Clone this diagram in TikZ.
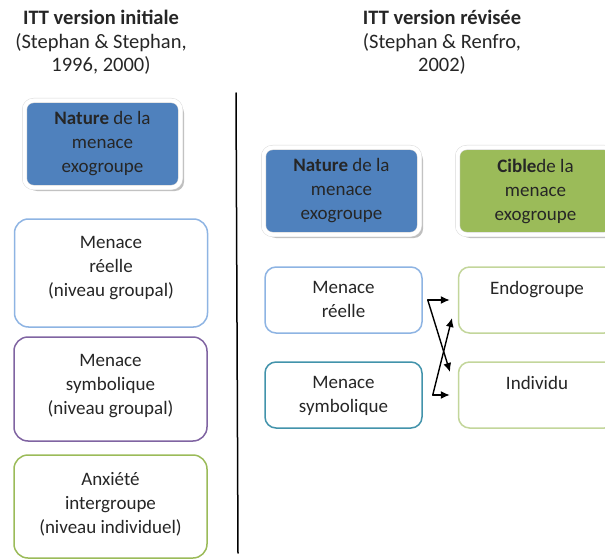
\documentclass[tikz,border=0pt]{standalone}
\usepackage{fontspec}
\setmainfont{Carlito}
\usetikzlibrary{arrows.meta,shadows,positioning}
\definecolor{natblue}{HTML}{4F81BD}
\definecolor{ciblegreen}{HTML}{9BBB59}
\definecolor{reelblue}{HTML}{8EB4E3}
\definecolor{symbpurple}{HTML}{8064A2}
\definecolor{anxgreen}{HTML}{9BBB59}
\definecolor{symbteal}{HTML}{4293AB}
\definecolor{endogreen}{HTML}{C3D69B}
\definecolor{txtgrey}{HTML}{262626}
\newcommand{\bodyfont}{\fontsize{19}{24}\selectfont}
\newcommand{\titlefont}{\fontsize{20.5}{23.5}\selectfont}
\tikzset{
  every picture/.style={line join=round, line cap=round, >=Stealth},
  natbox/.style={rounded corners=9pt, draw=black!15, line width=0.5pt, double=white, double distance=4pt,
    minimum width=156pt, minimum height=87pt, align=center, font=\bodyfont, text=txtgrey,
    drop shadow={shadow xshift=3.5pt, shadow yshift=-3.5pt, fill=black, opacity=0.25}},
  gbox/.style={rounded corners=14pt, line width=1.5pt, fill=white, minimum width=193pt},
  rbox/.style={rounded corners=11pt, line width=1.5pt, fill=white, minimum width=157pt, minimum height=66pt},
  intxt/.style={anchor=north, align=center, inner sep=0pt, font=\bodyfont, text=txtgrey},
  ttl/.style={anchor=north, align=center, inner sep=0pt, font=\titlefont, text=txtgrey},
  link/.style={line width=1.4pt, -{Latex[length=9pt,width=8pt]}},
}

\begin{document}
\begin{tikzpicture}[x=1pt,y=-1pt]
\useasboundingbox (0,0) rectangle (605,559);
% titres
\node[ttl] (tInit) at (101,10) {\textbf{ITT version initiale}\\(Stephan \& Stephan,\\1996, 2000)};
\node[ttl] (tRev) at (442,10) {\textbf{ITT version révisée}\\(Stephan \& Renfro,\\2002)};
\coordinate (sepTop) at (236,93);
\coordinate (sepBot) at (238,553);
\draw[line width=1.5pt] (sepTop)--(sepBot);
% version initiale
\node[natbox, fill=natblue] (gNat) at (102.5,144) {\textbf{Nature} de la\\menace\\exogroupe};
\node[gbox, draw=reelblue, minimum height=108pt] (gReel) at (111,273) {};
\node[gbox, draw=symbpurple, minimum height=104pt] (gSymb) at (110.5,389) {};
\node[gbox, draw=anxgreen, minimum height=103pt] (gAnx) at (110.5,506.5) {};
\node[intxt] (gReelT) at ([yshift=-18pt]gReel.north) {Menace\\réelle\\(niveau groupal)};
\node[intxt] (gSymbT) at ([yshift=-18pt]gSymb.north) {Menace\\symbolique\\(niveau groupal)};
\node[intxt] (gAnxT) at ([yshift=-18pt]gAnx.north) {Anxiété\\intergroupe\\(niveau individuel)};
% version revisee
\node[natbox, fill=natblue] (rNat) at (341.5,191) {\textbf{Nature} de la\\menace\\exogroupe};
\node[natbox, fill=ciblegreen] (rCible) at (535.5,191) {\textbf{Cible}de la\\menace\\exogroupe};
\node[rbox, draw=reelblue] (rReel) at (343.5,300) {};
\node[rbox, draw=symbteal] (rSymb) at (343.5,395) {};
\node[rbox, draw=endogreen] (rEndo) at (537,300) {};
\node[rbox, draw=endogreen] (rIndiv) at (537,395) {};
\node[intxt] (rReelT) at ([yshift=-14.5pt]rReel.north) {Menace\\réelle};
\node[intxt] (rSymbT) at ([yshift=-14.5pt]rSymb.north) {Menace\\symbolique};
\node[intxt] (rEndoT) at ([yshift=-14.5pt]rEndo.north) {Endogroupe};
\node[intxt] (rIndivT) at ([yshift=-14.5pt]rIndiv.north) {Individu};
% fleches
\coordinate (reelOut) at ([xshift=5pt]rReel.east);
\coordinate (symbOut) at ([xshift=10pt]rSymb.east);
\coordinate (indivIn) at (450,372);
\coordinate (endoIn) at (452,318);
\draw[link] (reelOut)--([xshift=-8pt]rEndo.west);
\draw[link] (reelOut)--(indivIn);
\draw[link] (symbOut)--([xshift=-8pt]rIndiv.west);
\draw[link] (symbOut)--(endoIn);
\end{tikzpicture}
\end{document}
